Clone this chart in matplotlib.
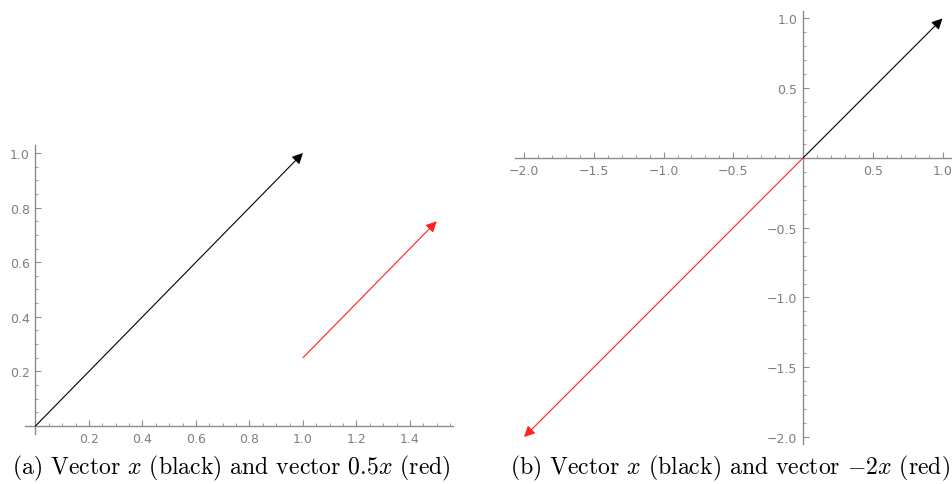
import matplotlib
matplotlib.use('Agg')
import matplotlib.pyplot as plt
from matplotlib.ticker import MultipleLocator, FixedLocator

# vectors
vec_x = [1.0, 1.0]
scale_a = 0.5
start_a = [1.0, 0.25]   # red arrow in (a) starts here
scale_b = -2.0

# tick labels shown
ticks_a_x = [0.2, 0.4, 0.6, 0.8, 1.0, 1.2, 1.4]
ticks_a_y = [0.2, 0.4, 0.6, 0.8, 1.0]
ticks_b_x = [-2.0, -1.5, -1.0, -0.5, 0.5, 1.0]
ticks_b_y = [-2.0, -1.5, -1.0, -0.5, 0.5, 1.0]

captions = [r'(a) Vector $x$ (black) and vector $0.5x$ (red)',
            r'(b) Vector $x$ (black) and vector $-2x$ (red)']

plt.rcParams['mathtext.fontset'] = 'cm'
axis_grey = '#8c8c8c'
label_grey = '#7f7f7f'

fig = plt.figure(figsize=(9.52, 4.85), dpi=100)
ax1 = fig.add_axes([0.026, 0.1027, 0.4496, 0.5967])
ax2 = fig.add_axes([0.541, 0.0825, 0.4593, 0.8918])


def style_axes(ax, xt, yt, minor):
    for s in ['top', 'right']:
        ax.spines[s].set_visible(False)
    for s in ['left', 'bottom']:
        ax.spines[s].set_position('zero')
        ax.spines[s].set_color(axis_grey)
        ax.spines[s].set_linewidth(1.0)
    ax.xaxis.set_major_locator(FixedLocator(xt))
    ax.yaxis.set_major_locator(FixedLocator(yt))
    ax.xaxis.set_minor_locator(MultipleLocator(minor))
    ax.yaxis.set_minor_locator(MultipleLocator(minor))
    ax.set_xticklabels([f'{v:.1f}'.replace('-', '\u2212') for v in xt])
    ax.set_yticklabels([f'{v:.1f}'.replace('-', '\u2212') for v in yt])
    ax.tick_params(which='major', direction='in', length=4.5, width=0.8,
                   color=axis_grey, labelcolor=label_grey, labelsize=9, pad=4)
    ax.tick_params(which='minor', direction='in', length=2.5, width=0.6,
                   color=axis_grey)
    ax.patch.set_alpha(0)


def draw_vec(ax, start, vec, color):
    end = [start[0] + vec[0], start[1] + vec[1]]
    ax.annotate('', xy=end, xytext=start,
                arrowprops=dict(arrowstyle='-|>', color=color, lw=0.8,
                                mutation_scale=16, shrinkA=0, shrinkB=0))


# (a)
ax1.set_xlim(-0.04, 1.56)
ax1.set_ylim(-0.03, 1.03)
style_axes(ax1, ticks_a_x, ticks_a_y, 0.05)
draw_vec(ax1, [0, 0], vec_x, 'black')
draw_vec(ax1, start_a, [scale_a * v for v in vec_x], '#ff2020')

# (b)
ax2.set_xlim(-2.065, 1.07)
ax2.set_ylim(-2.05, 1.05)
style_axes(ax2, ticks_b_x, ticks_b_y, 0.1)
draw_vec(ax2, [0, 0], vec_x, 'black')
draw_vec(ax2, [0, 0], [scale_b * v for v in vec_x], '#ff2020')

fig.text(0.243, 0.035, captions[0], ha='center', va='center',
         family='cmr10', fontsize=17.1)
fig.text(0.767, 0.035, captions[1], ha='center', va='center',
         family='cmr10', fontsize=17.1)

plt.savefig('out.png', dpi=100)
